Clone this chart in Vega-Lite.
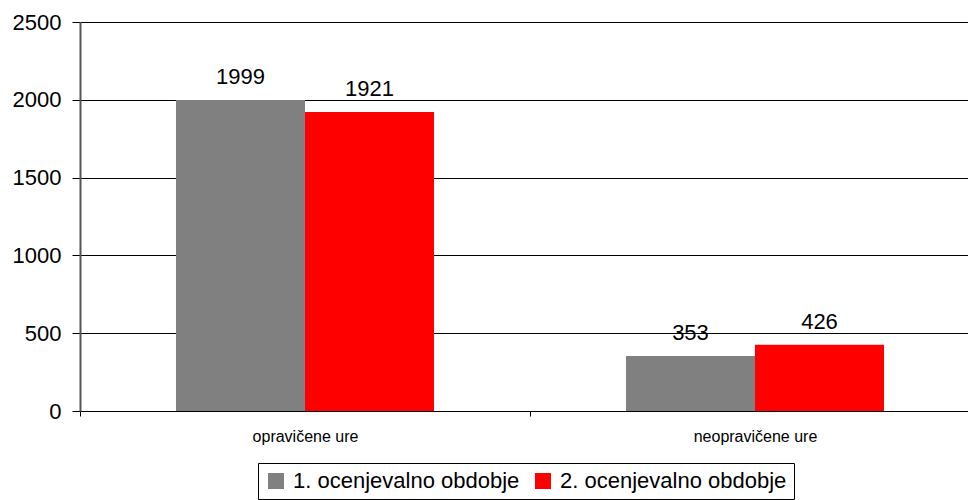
{
  "$schema": "https://vega.github.io/schema/vega-lite/v6.json",
  "autosize": {"type": "none"},
  "width": 900,
  "height": 389,
  "padding": {"left": 80, "top": 22, "right": 0, "bottom": 89},
  "background": "white",
  "config": {
    "font": "Liberation Sans",
    "view": {"stroke": null}
  },
  "data": {
    "values": [
      {"kategorija": "opravičene ure", "obdobje": "1. ocenjevalno obdobje", "ure": 1999},
      {"kategorija": "opravičene ure", "obdobje": "2. ocenjevalno obdobje", "ure": 1921},
      {"kategorija": "neopravičene ure", "obdobje": "1. ocenjevalno obdobje", "ure": 353},
      {"kategorija": "neopravičene ure", "obdobje": "2. ocenjevalno obdobje", "ure": 426}
    ]
  },
  "encoding": {
    "x": {
      "field": "kategorija",
      "type": "nominal",
      "sort": ["opravičene ure", "neopravičene ure"],
      "scale": {"paddingInner": 0, "paddingOuter": 0},
      "axis": {
        "title": null,
        "labelAngle": 0,
        "labelFontSize": 16,
        "labelColor": "black",
        "labelPadding": 12,
        "domainColor": "black",
        "tickColor": "black",
        "tickSize": 5,
        "tickBand": "extent",
        "grid": false
      }
    },
    "xOffset": {
      "field": "obdobje",
      "type": "nominal",
      "scale": {"paddingInner": 0, "paddingOuter": 0.744}
    },
    "y": {
      "field": "ure",
      "type": "quantitative",
      "scale": {"domain": [0, 2500], "nice": false},
      "axis": {
        "title": null,
        "values": [0, 500, 1000, 1500, 2000, 2500],
        "format": "d",
        "labelFontSize": 22,
        "labelColor": "black",
        "labelPadding": 11,
        "domainColor": "#555555",
        "domainWidth": 2,
        "tickColor": "black",
        "tickSize": 8,
        "grid": true,
        "gridColor": "black",
        "gridOpacity": 1
      }
    }
  },
  "layer": [
    {
      "mark": {"type": "bar"},
      "encoding": {
        "color": {
          "field": "obdobje",
          "type": "nominal",
          "scale": {"domain": ["1. ocenjevalno obdobje", "2. ocenjevalno obdobje"], "range": ["#808080", "#FF0000"]},
          "legend": {
            "title": null,
            "orient": "none",
            "direction": "horizontal",
            "legendX": 178,
            "legendY": 441,
            "symbolType": "square",
            "symbolSize": 256,
            "symbolStrokeWidth": 0,
            "symbolOpacity": 1,
            "labelFontSize": 22,
            "labelColor": "black",
            "labelOffset": 6,
            "columnPadding": 12,
            "labelLimit": 400,
            "strokeColor": "black",
            "padding": 7,
            "fillColor": "white"
          }
        }
      }
    },
    {
      "mark": {"type": "text", "fontSize": 22, "baseline": "alphabetic", "dy": -16, "color": "black"},
      "encoding": {"text": {"field": "ure", "type": "quantitative"}}
    }
  ]
}
